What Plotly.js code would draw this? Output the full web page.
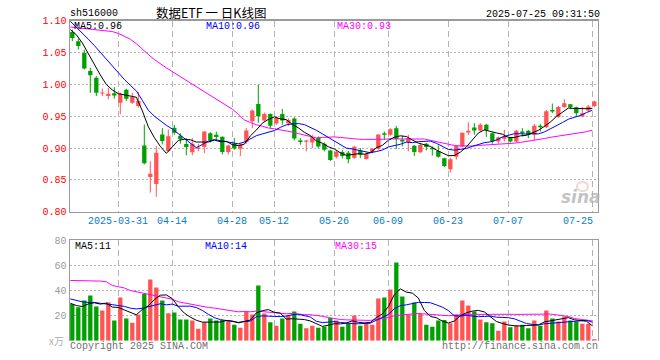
<!DOCTYPE html>
<html><head><meta charset="utf-8">
<script src="https://cdn.plot.ly/plotly-3.0.1.min.js"></script>
<style>html,body{margin:0;padding:0;background:#fff}#chart{width:660px;height:360px}</style>
</head><body><div id="chart"></div>
<script>
// ---- data ----
const symbol = 'sh516000';
const chartTitle = '数据ETF 一 日K线图';
const stamp = '2025-07-25 09:31:50';
const tickIdx = [8, 17, 27, 34, 44, 53, 63, 73, 87];
const tickLabels = ['2025-03-31', '04-14', '04-28', '05-12', '05-26', '06-09', '06-23', '07-07', '07-25'];
const volGridIdx = [8, 17, 34, 44, 53, 73, 87];
const priceTicks = [0.80, 0.85, 0.90, 0.95, 1.00, 1.05, 1.10];
const volTicks = [20, 40, 60, 80];
const volUnit = 'x万';

const open = [1.0823,1.0677,1.0494,1.0208,1.0103,0.9857,0.9816,0.9862,0.9711,0.9915,
  0.9711,0.9660,0.9041,0.8546,0.8437,0.9213,0.8953,0.9317,0.9192,0.9062,
  0.8932,0.8989,0.9015,0.9234,0.9208,0.9176,0.8937,0.9072,0.8989,0.9093,
  0.9421,0.9692,0.9432,0.9536,0.9385,0.9536,0.9385,0.9463,0.9119,0.9098,
  0.9088,0.9156,0.9067,0.8963,0.8864,0.8937,0.8926,0.8848,0.8963,0.8828,
  0.8937,0.8989,0.9234,0.9208,0.9312,0.9130,0.9088,0.9036,0.8932,0.9067,
  0.9005,0.8952,0.8838,0.8666,0.8864,0.9026,0.9244,0.9322,0.9276,0.9364,
  0.9234,0.9104,0.9145,0.9156,0.9104,0.9260,0.9270,0.9208,0.9349,0.9328,
  0.9599,0.9489,0.9646,0.9687,0.9640,0.9495,0.9589,0.9661];
const high = [1.0859,1.0718,1.0546,1.0260,1.0130,0.9935,0.9946,0.9956,0.9870,0.9930,
  0.9868,0.9883,0.9369,0.8791,0.9031,0.9312,0.9291,0.9364,0.9234,0.9156,
  0.9156,0.9067,0.9260,0.9250,0.9255,0.9180,0.9052,0.9156,0.9067,0.9312,
  0.9604,0.9994,0.9557,0.9546,0.9500,0.9614,0.9468,0.9484,0.9156,0.9130,
  0.9208,0.9182,0.9088,0.8974,0.8963,0.8968,0.8952,0.9031,0.9000,0.8932,
  0.9000,0.9213,0.9260,0.9312,0.9348,0.9192,0.9208,0.9047,0.9072,0.9078,
  0.9026,0.9041,0.8848,0.8848,0.9041,0.9244,0.9406,0.9390,0.9390,0.9380,
  0.9244,0.9182,0.9286,0.9171,0.9286,0.9312,0.9286,0.9380,0.9380,0.9599,
  0.9698,0.9661,0.9766,0.9692,0.9651,0.9646,0.9677,0.9745];
const low = [1.0677,1.0546,1.0233,0.9868,0.9816,0.9816,0.9763,0.9774,0.9528,0.9740,
  0.9695,0.9633,0.8744,0.8301,0.8234,0.9057,0.8937,0.9208,0.9067,0.8885,
  0.8885,0.8947,0.8921,0.9088,0.9119,0.8900,0.8900,0.8974,0.8874,0.9067,
  0.9312,0.9396,0.9416,0.9312,0.9364,0.9364,0.9348,0.9119,0.9052,0.8947,
  0.9000,0.9000,0.8947,0.8796,0.8833,0.8838,0.8760,0.8833,0.8843,0.8817,
  0.8916,0.8974,0.9130,0.9192,0.8984,0.9026,0.8947,0.8874,0.8921,0.8963,
  0.8880,0.8848,0.8703,0.8614,0.8817,0.9010,0.9208,0.9208,0.9260,0.9176,
  0.9067,0.9067,0.9104,0.9088,0.9088,0.9182,0.9156,0.9119,0.9260,0.9312,
  0.9547,0.9474,0.9630,0.9609,0.9495,0.9484,0.9573,0.9640];
const close = [1.0729,1.0604,1.0249,1.0145,0.9868,0.9873,0.9852,0.9826,0.9852,0.9775,
  0.9800,0.9738,0.8760,0.8598,0.8927,0.9109,0.9187,0.9239,0.9140,0.9015,
  0.9067,0.9010,0.9260,0.9119,0.9172,0.8937,0.9041,0.8994,0.9052,0.9276,
  0.9588,0.9500,0.9536,0.9349,0.9473,0.9432,0.9442,0.9150,0.9093,0.9119,
  0.9171,0.9026,0.8974,0.8812,0.8942,0.8874,0.8822,0.9020,0.8895,0.8906,
  0.8989,0.9213,0.9208,0.9296,0.9140,0.9104,0.9156,0.8937,0.9047,0.9015,
  0.8979,0.8864,0.8718,0.8822,0.9031,0.9239,0.9270,0.9276,0.9364,0.9276,
  0.9104,0.9166,0.9182,0.9104,0.9270,0.9234,0.9208,0.9349,0.9328,0.9578,
  0.9572,0.9646,0.9703,0.9640,0.9547,0.9547,0.9651,0.9729];
const volume = [29.3,26.7,32,36,27.2,24,30.7,16,34.4,17.6,
  14.4,20.8,37.3,48.8,42.4,32,21.9,22.4,16.8,16.8,
  16,9.6,14.7,17.6,16,16.5,15.5,12.8,10.4,22.9,
  20.8,44,21.6,14.7,12,17.6,20,23.2,13.6,9.9,
  12,10.4,11.2,18.1,16,11.2,13.9,20,12,13.9,
  12.8,33.6,34.4,40.8,62.4,35.2,20.8,30.4,21.3,12.8,
  11.2,16,16.5,13.9,20.8,32,28,23.2,16.8,14.7,
  13.9,8,15.2,10.7,12,12.8,9.9,16,12,24,
  17.6,15.2,19.2,16,15.2,13.6,13.6,1.1];
// moving-average values before the window is full
const ma5Head = [1.086, 1.078, 1.065, 1.048];
const ma10Head = [1.099, 1.090, 1.081, 1.071, 1.061, 1.050, 1.039, 1.028, 1.017];
const ma30Head = [1.090,1.089,1.088,1.087,1.086,1.085,1.084,1.083,1.080,1.076,
  1.071,1.064,1.055,1.047,1.039,1.032,1.026,1.020,1.014,1.008,
  1.002,0.996,0.990,0.984,0.978,0.973,0.967,0.961,0.953];
const volMa5Head = [29.9, 28, 27.2, 29.3];
const volMa10Head = [33.3, 32, 31, 30.5, 30.5, 29.8, 29.5, 28.7, 28];
const volMa30Head = [48,48,48,48,47.8,47.5,47,44,43,42,
  40,39,38,37,36,35,34,33,31,30,
  29,28,27.2,26.5,26,25.3,24.7,23.5,23];

// ---- derived ----
const RED = '#ff5454', GREEN = '#00a000';
const MONO = 'Liberation Mono, DejaVu Sans Mono, monospace';
const idx = close.map((_, i) => i);
const LOFF = -0.33; // line / grid offset from candle centre
function movAvg(src, n, head) {
  return src.map((_, i) => {
    if (i < n - 1) return head[i];
    let s = 0; for (let k = i - n + 1; k <= i; k++) s += src[k];
    return s / n;
  });
}
const ma5 = movAvg(close, 5, ma5Head), ma10 = movAvg(close, 10, ma10Head), ma30 = movAvg(close, 30, ma30Head);
const vma5 = movAvg(volume, 5, volMa5Head), vma10 = movAvg(volume, 10, volMa10Head), vma30 = movAvg(volume, 30, volMa30Head);
const isUp = idx.map(i => close[i] >= open[i]);
const upI = idx.filter(i => isUp[i]), dnI = idx.filter(i => !isUp[i]);

function bodies(ids, color) {
  return {type: 'bar', x: ids, base: ids.map(i => Math.min(open[i], close[i])),
    y: ids.map(i => Math.abs(close[i] - open[i])), width: 0.72,
    marker: {color: color, line: {width: 0}}, xaxis: 'x', yaxis: 'y', hoverinfo: 'skip'};
}
function wicks(ids, color) {
  const x = [], y = [];
  ids.forEach(i => { x.push(i, i, null); y.push(low[i], high[i], null); });
  return {type: 'scatter', mode: 'lines', x: x, y: y, line: {color: color, width: 1},
    xaxis: 'x', yaxis: 'y', hoverinfo: 'skip', connectgaps: false};
}
function line(vals, color, xa, ya) {
  return {type: 'scatter', mode: 'lines', x: idx.map(i => i + LOFF), y: vals,
    line: {color: color, width: 1}, xaxis: xa, yaxis: ya, hoverinfo: 'skip'};
}
function vbars(ids, color) {
  return {type: 'bar', x: ids, y: ids.map(i => volume[i]), width: 0.72,
    marker: {color: color, line: {width: 0}}, xaxis: 'x2', yaxis: 'y2', hoverinfo: 'skip'};
}

const traces = [
  wicks(upI, RED), wicks(dnI, GREEN), bodies(upI, RED), bodies(dnI, GREEN),
  line(ma30, '#ff00ff', 'x', 'y'), line(ma10, '#0000ff', 'x', 'y'), line(ma5, '#000000', 'x', 'y'),
  vbars(upI, RED), vbars(dnI, GREEN),
  line(vma30, '#ff00ff', 'x2', 'y2'), line(vma10, '#0000ff', 'x2', 'y2'), line(vma5, '#000000', 'x2', 'y2')
];

const W = 660, H = 360;
const px = v => v / W, py = v => 1 - v / H;
const xDom = [px(70), px(597.5)];
const xRange = [-0.383, 87.53];
const GRID = '#b4b4b4', FRAME = '#9a9a9a';

const ann = [];
function txt(text, x, y, xa, color, size, extra) {
  ann.push(Object.assign({xref: 'paper', yref: 'paper', x: x, y: y, xanchor: xa, yanchor: 'middle',
    text: text, showarrow: false, font: {family: MONO, size: size || 10, color: color}, borderpad: 0}, extra || {}));
}
txt(symbol, px(69), py(13.5), 'left', '#000');
txt(chartTitle, px(211), py(12.5), 'center', '#000', 12, {font: {family: 'Noto Sans CJK SC', size: 12.5, color: '#000'}});
txt(stamp, px(601), py(14.5), 'right', '#000');
const last = close.length - 1;
txt('MA5:' + ma5[last].toFixed(2), px(73), py(26.5), 'left', '#000');
txt('MA10:' + ma10[last].toFixed(2), px(205), py(26.5), 'left', '#0000ff');
txt('MA30:' + ma30[last].toFixed(2), px(336), py(26.5), 'left', '#ff00ff');
txt('MA5:' + Math.floor(vma5[last]), px(74), py(246.5), 'left', '#000');
txt('MA10:' + Math.floor(vma10[last]), px(204), py(246.5), 'left', '#0000ff');
txt('MA30:' + Math.floor(vma30[last]), px(334), py(246.5), 'left', '#ff00ff');
tickIdx.forEach((v, k) => {
  const isLast = k === tickIdx.length - 1;
  ann.push({xref: 'x', yref: 'paper', x: isLast ? 86.95 : v + LOFF, y: py(221.5),
    xanchor: isLast ? 'right' : 'center', yanchor: 'middle', text: tickLabels[k], showarrow: false,
    borderpad: 0, font: {family: MONO, size: 10, color: '#0a7cc8'}});
});
txt(volUnit, px(65), py(340), 'right', '#b0b0b0', 10, {font: {family: 'Noto Sans CJK SC, ' + MONO, size: 10, color: '#b0b0b0'}});
txt('Copyright 2025 SINA.COM', px(69), py(346), 'left', '#707070');
txt('http://finance.sina.com.cn', px(598.5), py(346), 'right', '#707070');
txt('sina', px(581), py(197), 'center', 'rgba(175,175,175,0.75)', 17,
  {font: {family: 'DejaVu Sans', size: 17, color: 'rgba(175,175,175,0.75)', style: 'italic', weight: 'bold'}});

const layout = {
  width: W, height: H, margin: {l: 0, r: 0, t: 0, b: 0}, paper_bgcolor: '#fff', plot_bgcolor: '#fff',
  showlegend: false, hovermode: false, barmode: 'overlay',
  font: {family: MONO, size: 10},
  xaxis: {domain: xDom, range: xRange, anchor: 'y', tickvals: tickIdx.map(v => v + LOFF), showticklabels: false,
    ticks: '', showgrid: true, gridcolor: GRID, gridwidth: 1, griddash: '6px,4px', zeroline: false,
    showline: true, mirror: true, linecolor: FRAME, linewidth: 1.5},
  yaxis: {domain: [py(211.7), py(20.7)], range: [0.80, 1.10], tickvals: priceTicks, tickformat: '.2f',
    ticks: '', showgrid: true, gridcolor: GRID, gridwidth: 1, griddash: '2px,2px', zeroline: false,
    showline: true, mirror: true, linecolor: FRAME, linewidth: 1.5,
    tickfont: {family: MONO, size: 10, color: '#ff0000'}},
  xaxis2: {domain: xDom, range: xRange, anchor: 'y2', side: 'top', tickvals: volGridIdx.map(v => v + LOFF),
    showticklabels: false, ticks: '', showgrid: true, gridcolor: GRID, gridwidth: 1, griddash: '6px,4px',
    zeroline: false, showline: true, mirror: false, linecolor: FRAME, linewidth: 1.5},
  yaxis2: {domain: [py(340.7), py(240.3)], range: [0, 80], tickvals: volTicks, ticks: '',
    showgrid: true, gridcolor: GRID, gridwidth: 1, griddash: '2px,2px', zeroline: false,
    showline: true, mirror: true, linecolor: FRAME, linewidth: 1.5,
    tickfont: {family: MONO, size: 10, color: '#9a9a9a'}},
  annotations: ann,
  shapes: [{type: 'circle', xref: 'paper', yref: 'paper', x0: px(577), x1: px(588), y0: py(191), y1: py(182),
    line: {color: 'rgba(230,130,130,0.35)', width: 2}}]
};
Plotly.newPlot('chart', traces, layout, {staticPlot: true, displayModeBar: false});
</script></body></html>
